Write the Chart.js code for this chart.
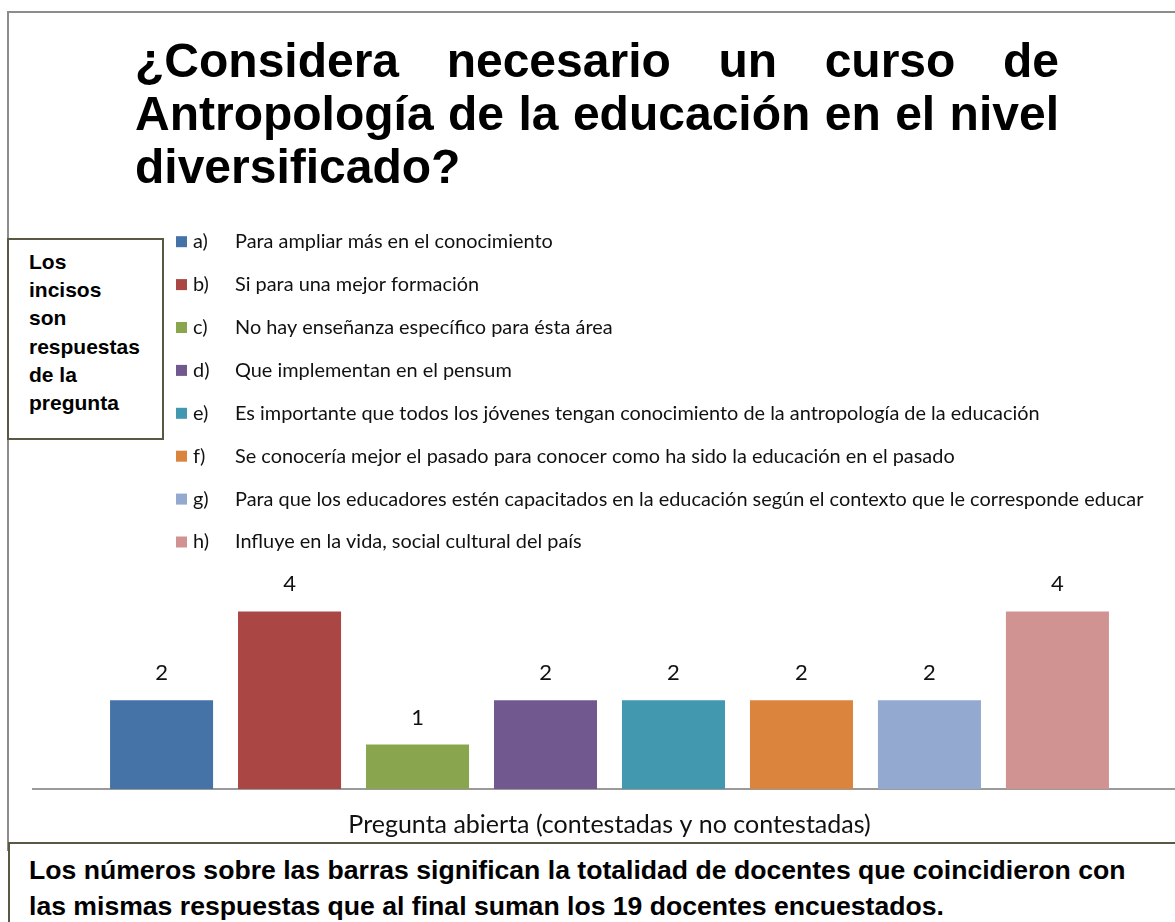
<!DOCTYPE html>
<html lang="es">
<head>
<meta charset="utf-8">
<title>Antropología de la educación</title>
<script src="https://cdn.jsdelivr.net/npm/chart.js@4.4.1/dist/chart.umd.min.js"></script>
<style>
    html, body {
        margin: 0;
        padding: 0;
        background: #ffffff;
        overflow: hidden;
    }
    #page {
        position: relative;
        width: 1175px;
        height: 922px;
        overflow: hidden;
    }
    #grafica {
        position: absolute;
        left: 0;
        top: 0;
    }
    .marco {
        position: absolute;
        left: 7px;
        top: 11px;
        width: 1300px;
        height: 840px;
        border-top: 2px solid #8c8c8c;
        border-left: 2px solid #8c8c8c;
        box-sizing: border-box;
    }
    .titulo {
        position: absolute;
        left: 135px;
        top: 34px;
        width: 924px;
        margin: 0;
        font: bold 48px/53px "Liberation Sans", Arial, sans-serif;
        color: #000;
        text-align: justify;
        text-align-last: left;
    }
    .nota-lateral {
        position: absolute;
        left: 7px;
        top: 238px;
        width: 157px;
        height: 202px;
        box-sizing: border-box;
        border: 2px solid #5a5843;
        background: #fff;
        padding: 8px 0 0 20px;
        font: bold 21px/28.2px "Liberation Sans", Arial, sans-serif;
        color: #000;
    }
    .nota-inferior {
        position: absolute;
        left: 8px;
        top: 842px;
        width: 1300px;
        height: 120px;
        box-sizing: border-box;
        border: 2px solid #5a5843;
        background: #fff;
        padding: 8px 0 0 19px;
        font: bold 26.6px/36px "Liberation Sans", Arial, sans-serif;
        color: #000;
    }
</style>
</head>
<body>
<div id="page">
    <div class="marco"></div>
    <canvas id="grafica" width="1200" height="922"></canvas>
    <h1 class="titulo">¿Considera necesario un curso de Antropología de la educación en el nivel diversificado?</h1>
    <div class="nota-lateral">Los<br>incisos<br>son<br>respuestas<br>de la<br>pregunta</div>
    <div class="nota-inferior">Los números sobre las barras significan la totalidad de docentes que coincidieron con<br>las mismas respuestas que al final suman los 19 docentes encuestados.</div>
</div>

<script>
// Datos de la gráfica
const categoria = ['Pregunta abierta (contestadas y no contestadas)'];
const incisos = ['a)', 'b)', 'c)', 'd)', 'e)', 'f)', 'g)', 'h)'];
const respuestas = [
    'Para ampliar más en el conocimiento',
    'Si para una mejor formación',
    'No hay enseñanza específico para ésta área',
    'Que implementan en el pensum',
    'Es importante que todos los jóvenes tengan conocimiento de la antropología de la educación',
    'Se conocería mejor el pasado para conocer como ha sido la educación en el pasado',
    'Para que los educadores estén capacitados en la educación según el contexto que le corresponde educar',
    'Influye en la vida, social cultural del país'
];
const docentes = [2, 4, 1, 2, 2, 2, 2, 4];

// Colores de cada inciso
const colores = ['#4572a7', '#aa4643', '#89a54e', '#71588f', '#4198af', '#db843d', '#93a9cf', '#d19392'];

// Leyenda en lista vertical (una fila por inciso)
const leyendaLista = {
    id: 'leyendaLista',
    afterDraw(chart, args, opts) {
        const ctx = chart.ctx;
        ctx.save();
        ctx.font = opts.font;
        ctx.textBaseline = 'middle';
        chart.data.datasets.forEach((ds, i) => {
            const y = opts.top + i * opts.rowHeight;
            ctx.fillStyle = ds.backgroundColor;
            ctx.fillRect(opts.boxLeft, y - opts.boxSize / 2, opts.boxSize, opts.boxSize);
            ctx.fillStyle = opts.color;
            ctx.fillText(ds.inciso, opts.incisoLeft, y);
            ctx.fillText(ds.label, opts.textLeft, y);
        });
        ctx.restore();
    }
};

// Valores encima de las barras
const valoresBarras = {
    id: 'valoresBarras',
    afterDatasetsDraw(chart, args, opts) {
        const ctx = chart.ctx;
        ctx.save();
        ctx.font = opts.font;
        ctx.fillStyle = opts.color;
        ctx.textAlign = 'center';
        ctx.textBaseline = 'middle';
        chart.data.datasets.forEach((ds, i) => {
            const meta = chart.getDatasetMeta(i);
            meta.data.forEach((bar, j) => {
                ctx.fillText(String(ds.data[j]), bar.x, bar.y - opts.offset);
            });
        });
        ctx.restore();
    }
};

const datasets = respuestas.map((texto, i) => ({
    label: texto,
    inciso: incisos[i],
    data: [docentes[i]],
    backgroundColor: colores[i],
    borderWidth: 0,
    categoryPercentage: 0.888,
    barPercentage: 0.805
}));

new Chart(document.getElementById('grafica'), {
    type: 'bar',
    data: {
        labels: categoria,
        datasets: datasets
    },
    options: {
        responsive: false,
        animation: false,
        devicePixelRatio: 1,
        layout: {
            padding: { left: 33, right: 14, top: 567, bottom: 0 }
        },
        scales: {
            x: {
                grid: { display: false },
                border: { display: true, color: '#9a9a9a', width: 2 },
                ticks: {
                    color: '#111',
                    padding: 13,
                    font: { family: 'Lato', size: 25 }
                },
                afterFit(scale) {
                    scale.height = 133;
                }
            },
            y: {
                display: false,
                min: 0,
                max: 5
            }
        },
        plugins: {
            legend: { display: false },
            tooltip: { enabled: false },
            leyendaLista: {
                top: 241.7,
                rowHeight: 42.9,
                boxLeft: 176,
                boxSize: 11,
                incisoLeft: 193,
                textLeft: 235,
                font: '19.9px Lato',
                color: '#111'
            },
            valoresBarras: {
                offset: 27,
                font: '22px Lato',
                color: '#111'
            }
        }
    },
    plugins: [leyendaLista, valoresBarras]
});
</script>
</body>
</html>
